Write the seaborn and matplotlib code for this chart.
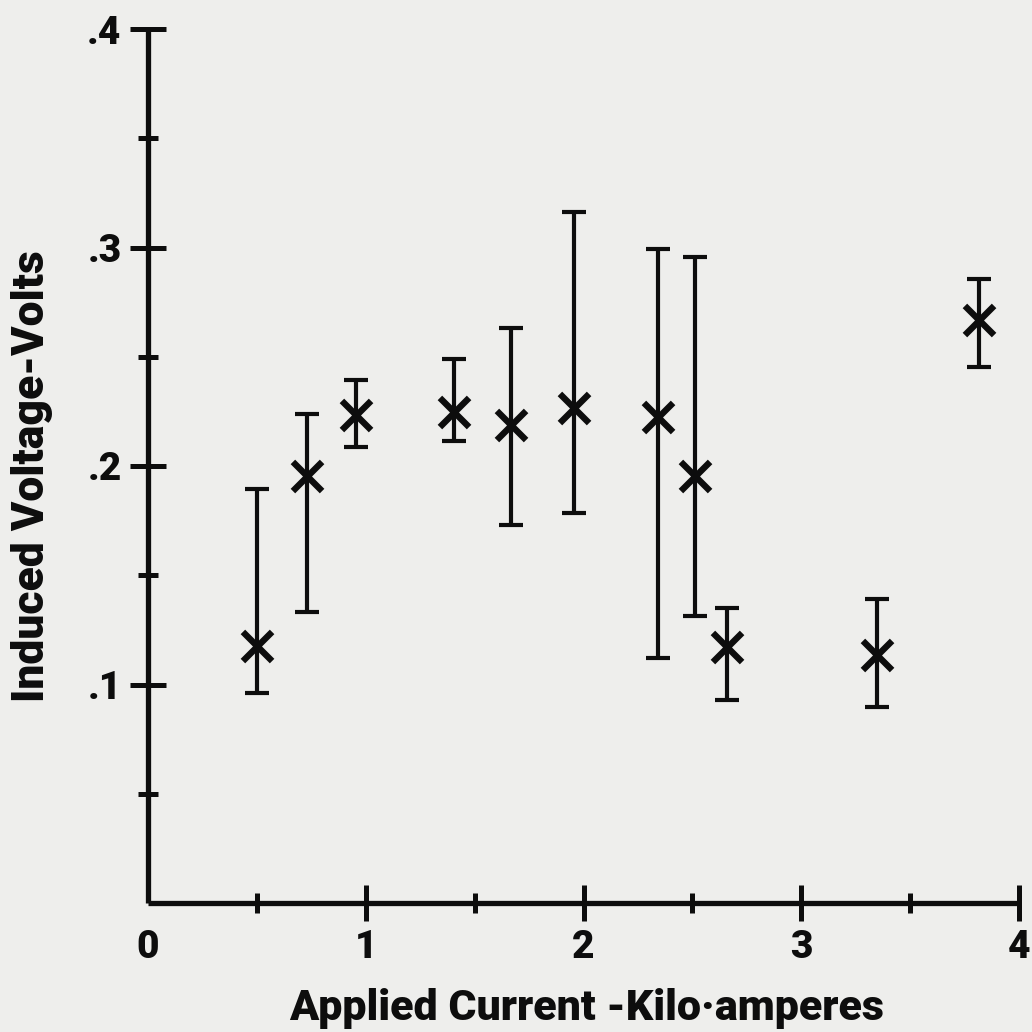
import matplotlib
matplotlib.use("Agg")
import matplotlib.pyplot as plt
import seaborn as sns
import numpy as np
import pandas as pd
from matplotlib.ticker import FixedLocator

# ---- data ----
current = [0.50, 0.73, 0.956, 1.406, 1.668, 1.957, 2.342, 2.513, 2.658, 3.347, 3.818]
voltage = [0.1176, 0.1954, 0.2233, 0.2249, 0.2188, 0.2264, 0.2226, 0.1954, 0.1172, 0.1135, 0.2668]
upper = [0.1895, 0.2238, 0.2394, 0.2490, 0.2630, 0.3161, 0.2993, 0.2958, 0.1350, 0.1391, 0.2856]
lower = [0.0962, 0.1333, 0.2088, 0.2114, 0.1730, 0.1783, 0.1121, 0.1314, 0.0929, 0.0897, 0.2455]

x_ticks = [0, 1, 2, 3, 4]
x_ticklabels = ["0", "1", "2", "3", "4"]
x_minor = [0.5, 1.5, 2.5, 3.5]
y_ticks = [0.1, 0.2, 0.3, 0.4]
y_ticklabels = [".1", ".2", ".3", ".4"]
y_minor = [0.05, 0.15, 0.25, 0.35]
x_label = "Applied Current -Kilo\u00b7amperes"
y_label = "Induced Voltage-Volts"

df = pd.DataFrame({"current": current, "voltage": voltage,
                   "upper": upper, "lower": lower})

sns.set_theme(style="white")
plt.rcParams["font.family"] = ["Roboto", "Liberation Sans", "DejaVu Sans"]
W = "black"

bg = "#eeeeec"
ink = "#0d0d0d"

fig = plt.figure(figsize=(10.32, 10.32), dpi=100, facecolor=bg)
ax = fig.add_axes([148 / 1032, 1 - 903 / 1032, (1019 - 148) / 1032, (903 - 29) / 1032])
ax.set_facecolor(bg)

yerr = np.vstack([df["voltage"] - df["lower"], df["upper"] - df["voltage"]])
ax.errorbar(df["current"], df["voltage"], yerr=yerr, fmt="none",
            ecolor=ink, elinewidth=3.0, capsize=8.5, capthick=3.0, zorder=2)
sns.scatterplot(data=df, x="current", y="voltage", marker="x", s=21 ** 2,
                color=ink, linewidth=4.6, ax=ax, zorder=3, legend=False)

ax.set_xlim(0, 4)
ax.set_ylim(0, 0.4)

for side in ["top", "right"]:
    ax.spines[side].set_visible(False)
for side in ["left", "bottom"]:
    ax.spines[side].set_linewidth(3.8)
    ax.spines[side].set_color(ink)
    ax.spines[side].set_capstyle("butt")

ax.xaxis.set_major_locator(FixedLocator(x_ticks))
ax.set_xticklabels(x_ticklabels)
ax.xaxis.set_minor_locator(FixedLocator(x_minor))
ax.yaxis.set_major_locator(FixedLocator(y_ticks))
ax.set_yticklabels(y_ticklabels)
ax.yaxis.set_minor_locator(FixedLocator(y_minor))

ax.tick_params(axis="both", which="major", direction="inout", length=26,
               width=3.6, color=ink, labelsize=28, labelcolor=ink, pad=6,
               bottom=True, left=True)
ax.tick_params(axis="both", which="minor", direction="inout", length=14,
               width=3.6, color=ink, bottom=True, left=True)
ax.xaxis.get_major_ticks()[0].tick1line.set_visible(False)
for lab in ax.get_xticklabels() + ax.get_yticklabels():
    lab.set_fontweight(W)

ax.set_xlabel(x_label, fontsize=31, fontweight=W, color=ink)
ax.set_ylabel(y_label, fontsize=32, fontweight=W, color=ink)
ax.xaxis.label.set_va("baseline")
ax.xaxis.set_label_coords(0.503, -(1020 - 903) / 874)
ax.yaxis.label.set_va("baseline")
ax.yaxis.label.set_rotation_mode("anchor")
ax.yaxis.set_label_coords(-(148 - 44) / 871, (903 - 476) / 874)

ax.grid(False)
fig.savefig("out.png", dpi=100, facecolor=bg)
